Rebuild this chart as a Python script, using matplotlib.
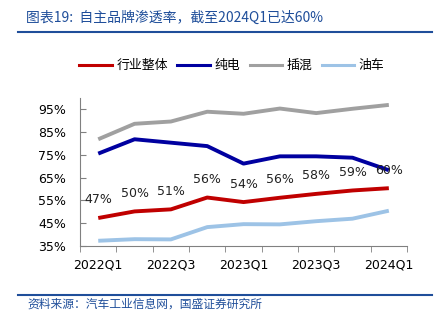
import matplotlib
matplotlib.use('Agg')
import matplotlib.pyplot as plt
from matplotlib.lines import Line2D
import numpy as np

plt.rcParams['font.family'] = ['DejaVu Sans', 'Noto Sans CJK SC']

quarters = ['2022Q1', '2022Q2', '2022Q3', '2022Q4', '2023Q1',
            '2023Q2', '2023Q3', '2023Q4', '2024Q1']
industry = [47.3, 50.2, 51.1, 56.3, 54.3, 56.2, 57.9, 59.4, 60.4]
bev = [75.6, 81.9, 80.4, 78.9, 71.2, 74.4, 74.4, 73.8, 68.3]
phev = [81.9, 88.7, 89.7, 94.0, 93.1, 95.4, 93.4, 95.3, 97.0]
ice = [37.3, 38.0, 37.9, 43.3, 44.6, 44.5, 45.9, 47.0, 50.5]
series_names = ['行业整体', '纯电', '插混', '油车']
y_ticks = [35, 45, 55, 65, 75, 85, 95]

COLORS = ['#C00000', '#0000A0', '#A0A0A0', '#9DC3E6']
TITLE_BLUE = '#1F4E9A'
CJK = ['Noto Sans CJK SC', 'DejaVu Sans']

fig = plt.figure(figsize=(4.4, 3.28), dpi=100)
ax = fig.add_axes([0.182, 0.25, 0.743, 0.451])

x = np.arange(len(quarters))
for vals, color, name in zip([industry, bev, phev, ice], COLORS, series_names):
    ax.plot(x, vals, color=color, lw=2.8, solid_capstyle='butt', label=name)

for xi, v in zip(x, industry):
    ax.annotate(f'{v:.0f}%', (xi, v), xytext=(0, 13), textcoords='offset points',
                ha='center', va='center', fontsize=9, color='#222222')

ax.set_xlim(-0.5, len(quarters) - 0.5)
ax.set_ylim(35, 100)
ax.set_yticks(y_ticks)
ax.set_yticklabels([f'{t}%' for t in y_ticks], fontsize=9)
ax.set_xticks(x[::2])
ax.set_xticklabels(quarters[::2], fontsize=9)
ax.set_xticks(np.arange(-0.5, len(quarters)), minor=True)
ax.tick_params(axis='x', which='major', length=0, pad=9)
ax.tick_params(axis='x', which='minor', length=4, direction='out', color='#808080')
ax.tick_params(axis='y', length=4, direction='in', color='#808080', pad=10)
for s in ['top', 'right']:
    ax.spines[s].set_visible(False)
for s in ['left', 'bottom']:
    ax.spines[s].set_color('#808080')
    ax.spines[s].set_linewidth(0.8)

handles = [Line2D([], [], color=c, lw=2.2) for c in COLORS]
fig.legend(handles, series_names, loc='center', bbox_to_anchor=(0.527, 0.80),
           ncol=4, frameon=False, prop={'family': CJK, 'size': 9.3},
           handlelength=2.5, handletextpad=0.35, columnspacing=0.75)

fig.text(0.06, 0.945, '图表19:  自主品牌渗透率，截至2024Q1已达60%', family=CJK,
         fontsize=10, color=TITLE_BLUE, style='italic', va='center')
fig.add_artist(Line2D([0.04, 0.982], [0.902, 0.902], color=TITLE_BLUE, lw=1.5))
fig.add_artist(Line2D([0.04, 0.982], [0.10, 0.10], color=TITLE_BLUE, lw=1.5))
fig.text(0.062, 0.074, '资料来源：汽车工业信息网，国盛证券研究所', family=CJK,
         fontsize=8.5, color=TITLE_BLUE, style='italic', va='center')

fig.savefig('out.png', dpi=100)
